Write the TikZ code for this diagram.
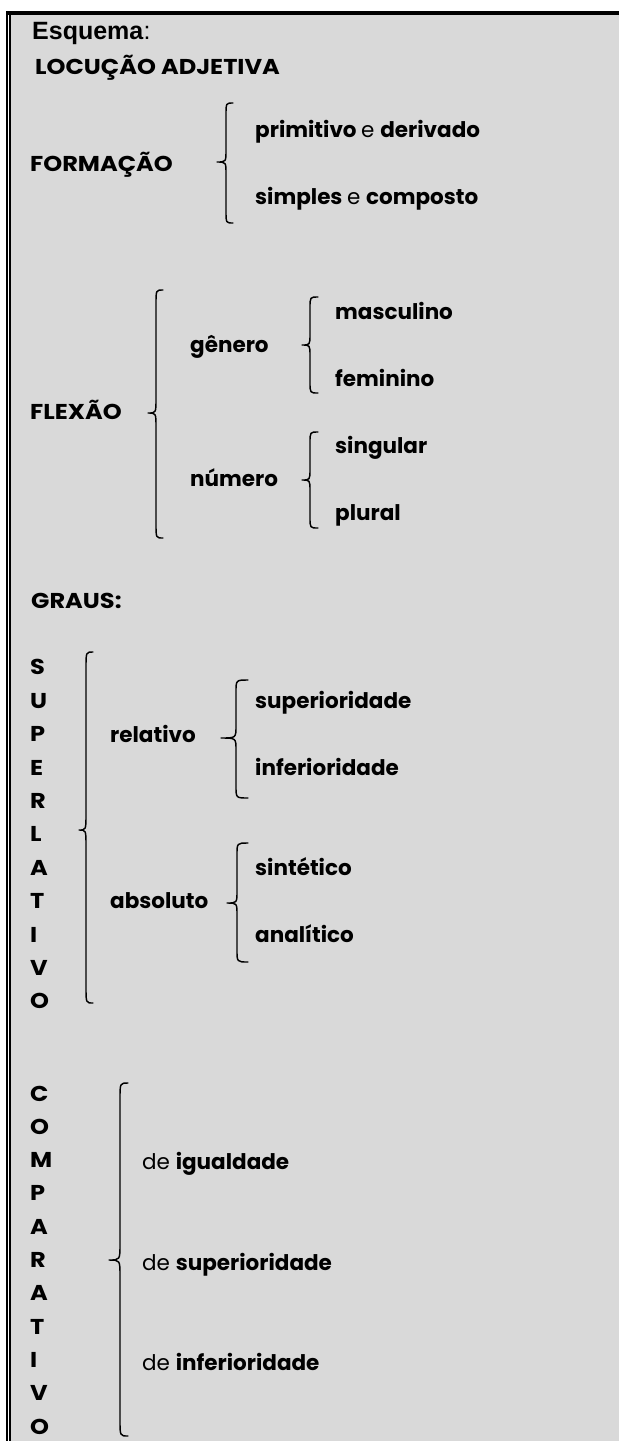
\documentclass[tikz,border=0pt]{standalone}
\usepackage{fontspec}
\setmainfont{Poppins}
\newfontfamily\arialf{Liberation Sans}
\newfontfamily\capsf{Poppins}[FakeStretch=1.12]
\definecolor{panel}{RGB}{217,217,217}

% curly brace opening to the right:
% #1 tip x, #2 stem x, #3 hook x, #4 top y, #5 tip y, #6 bottom y, #7 curve length
\newcommand\wbrace[7]{%
  \draw[bracestroke] (#3,#4) .. controls (#2,#4) .. (#2,#4+#7)
    -- (#2,#5-#7) .. controls (#2,#5) .. (#1,#5)
    .. controls (#2,#5) .. (#2,#5+#7)
    -- (#2,#6-#7) .. controls (#2,#6) .. (#3,#6);}

\tikzset{
  lbl/.style={anchor=base west, inner sep=0pt, text=black,
    font=\fontsize{21.5}{25}\selectfont\bfseries},
  capword/.style={anchor=base west, inner sep=0pt, text=black,
    font=\fontsize{21.5}{25}\selectfont\capsf\bfseries},
  head/.style={anchor=base west, inner sep=0pt, text=black,
    font=\fontsize{25}{28}\selectfont\arialf},
  bracestroke/.style={draw=black, line width=1.45pt, line cap=round, line join=round},
}

\begin{document}
\begin{tikzpicture}[x=1pt,y=-1pt]
  \useasboundingbox (0,0) rectangle (619,1441);
  % panel and its borders
  \fill[white] (0,0) rectangle (619,1441);
  \fill[panel] (10.6,15) rectangle (619,1441);
  \fill[black] (5.5,11) rectangle (619,15);
  \fill[black] (5.5,11) rectangle (7.8,1441);
  \fill[black] (8.8,15) rectangle (10.6,1441);

  % heading
  \node[head] (esq) at (32,39) {\textbf{Esquema}:};
  \node[capword] (loc) at (35,74.5) {LOCUÇÃO ADJETIVA};

  % formação
  \node[capword] (form) at (30,171.5) {FORMAÇÃO};
  \node[lbl] (prim) at (255,137.5) {primitivo \mdseries e \bfseries derivado};
  \node[lbl] (simp) at (255,204.5) {simples \mdseries e \bfseries composto};
  \wbrace{217}{226}{233}{103}{162}{223}{12}

  % flexão
  \node[capword] (flex) at (30,419.5) {FLEXÃO};
  \wbrace{148}{156}{163}{290}{413}{538}{14}
  \node[lbl] (gen) at (190,352.5) {gênero};
  \node[lbl] (num) at (190,486.5) {número};
  \wbrace{302}{310}{318}{297}{345}{393}{11}
  \wbrace{302}{310}{318}{432}{480}{528}{11}
  \node[lbl] (masc) at (335,319.5) {masculino};
  \node[lbl] (fem) at (335,386) {feminino};
  \node[lbl] (sing) at (335,453.3) {singular};
  \node[lbl] (plur) at (335,520) {plural};

  % graus
  \node[capword] (graus) at (31,608) {GRAUS:};

  % superlativo
  \foreach \c [count=\i from 0] in {S,U,P,E,R,L,A,T,I,V,O}
    \node[capword] (sl\i) at (30,674.8+33.4*\i) {\c};
  \wbrace{79}{86}{93}{652}{830}{1003}{16}
  \node[lbl] (rel) at (110,742) {relativo};
  \node[lbl] (abs) at (110,908.5) {absoluto};
  \wbrace{221}{236}{248}{680}{738}{798}{12}
  \wbrace{227}{237}{248}{843}{903}{962}{12}
  \node[lbl] (supr) at (255,708) {superioridade};
  \node[lbl] (infr) at (255,775) {inferioridade};
  \node[lbl] (sint) at (255,875) {sintético};
  \node[lbl] (anal) at (255,942) {analítico};

  % comparativo
  \foreach \c [count=\i from 0] in {C,O,M,P,A,R,A,T,I,V,O}
    \node[capword] (cp\i) at (30,1101+33.3*\i) {\c};
  \wbrace{109}{120}{128}{1083}{1260}{1436}{16}
  \node[lbl] (igu) at (142,1169.5) {\mdseries de \bfseries igualdade};
  \node[lbl] (sups) at (142,1270) {\mdseries de \bfseries superioridade};
  \node[lbl] (infs) at (142,1370.5) {\mdseries de \bfseries inferioridade};
\end{tikzpicture}
\end{document}
